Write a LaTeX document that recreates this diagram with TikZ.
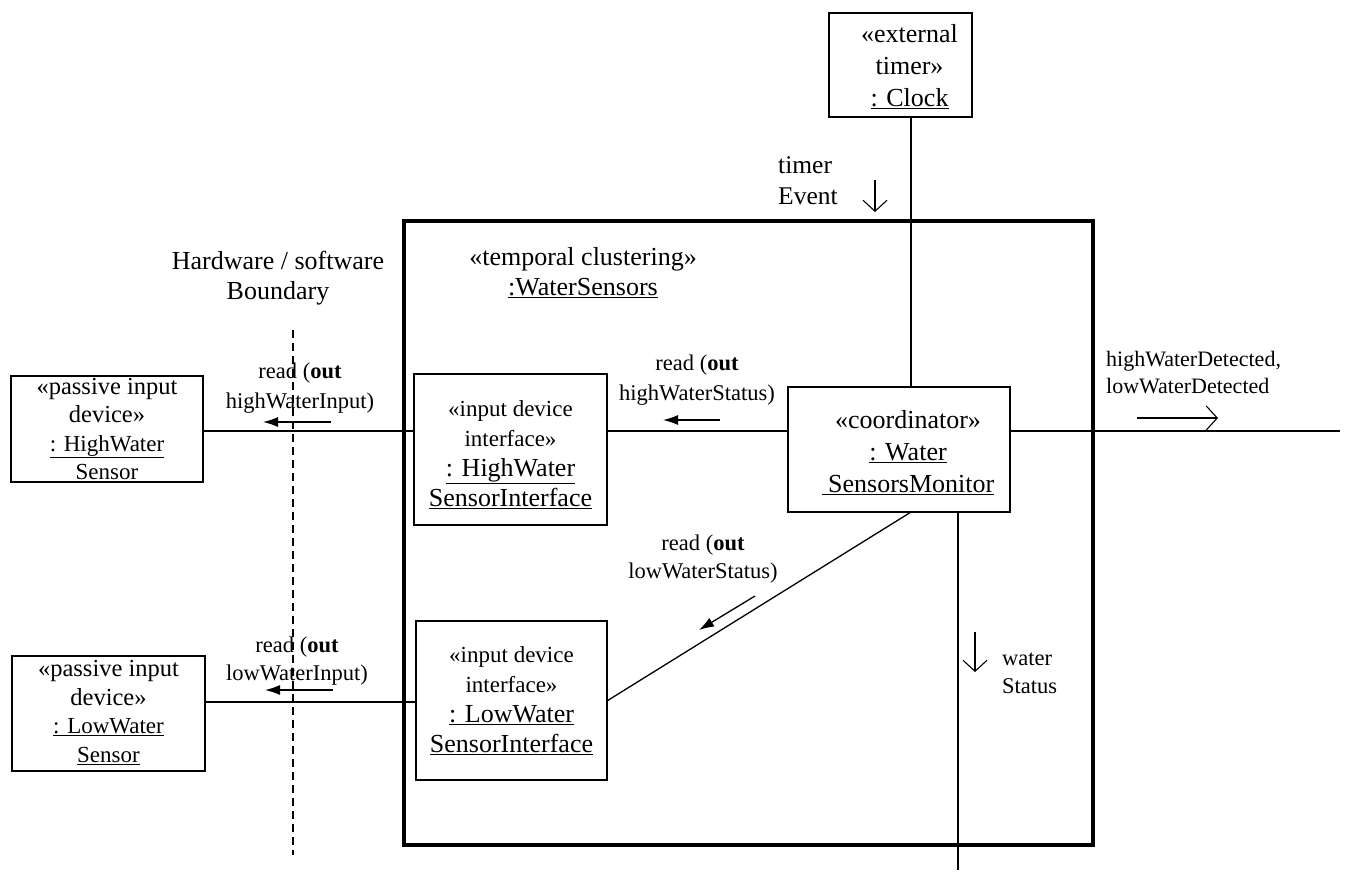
\documentclass[tikz,border=0pt]{standalone}
\usepackage{fontspec}
\setmainfont{Liberation Serif}
\usetikzlibrary{arrows.meta}

% font sizes used in the diagram
\newcommand\namefont{\fontsize{26}{30}\selectfont}
\newcommand\stereofont{\fontsize{23}{29}\selectfont}
\newcommand\passivefont{\fontsize{24.5}{28.5}\selectfont}
\newcommand\sensorfont{\fontsize{23}{28.5}\selectfont}
\newcommand\labelfont{\fontsize{22.5}{28}\selectfont}

\tikzset{
  objbox/.style={draw, line width=1.3pt, inner sep=0pt},
  boxtext/.style={align=center, inner sep=0pt},
  cluster/.style={draw, line width=4.5pt, inner sep=0pt},
  link/.style={line width=1.3pt},
  msgarrow/.style={line width=1.3pt, -{Latex[length=15pt,width=10pt]}},
  evtarrow/.style={line width=1.1pt, -{Straight Barb[length=11pt,width=24pt]}},
  lbl/.style={align=center, inner sep=0pt, font=\labelfont},
  boundary/.style={line width=1.3pt, dash pattern=on 8pt off 5pt},
}

\begin{document}
\begin{tikzpicture}[x=1pt, y=-1pt]
\useasboundingbox (0,0) rectangle (1346,871);

% enclosing temporal cluster
\node[cluster, minimum width=689pt, minimum height=624pt] (cluster) at (748.5,533) {};
\node[boxtext, font=\namefont] (clname) at (583,273)
  {«temporal clustering»\\\underline{:WaterSensors}};

% object boxes
\node[objbox, minimum width=143pt, minimum height=104pt] (clock) at (900.5,65) {};
\node[objbox, minimum width=192pt, minimum height=106pt] (hws) at (107,429) {};
\node[objbox, minimum width=193pt, minimum height=151pt] (hwi) at (510.5,449.5) {};
\node[objbox, minimum width=222pt, minimum height=125pt] (coord) at (899,449.5) {};
\node[objbox, minimum width=193pt, minimum height=115pt] (lws) at (108.5,713.5) {};
\node[objbox, minimum width=191pt, minimum height=159pt] (lwi) at (511.5,700.5) {};

% object names
\node[boxtext, font=\namefont\fontsize{26}{32}\selectfont] (clocktxt) at ([xshift=9pt,yshift=-2pt]clock.center)
  {«external\\timer»\\\underline{: Clock}};
\node[boxtext, font=\sensorfont] (hwstxt) at ([yshift=-1pt]hws.center)
  {{\passivefont «passive input}\\{\passivefont device»}\\\underline{: HighWater}\\\underline{Sensor}};
\node[boxtext, font=\namefont] (hwitxt) at ([yshift=-5pt]hwi.center)
  {{\stereofont «input device}\\{\stereofont interface»}\\\underline{: HighWater}\\\underline{SensorInterface}};
\node[boxtext, font=\namefont\fontsize{26}{32}\selectfont] (coordtxt) at ([xshift=9pt,yshift=-3pt]coord.center)
  {«coordinator»\\\underline{: Water}\\\underline{\ SensorsMonitor}};
\node[boxtext, font=\sensorfont] (lwstxt) at ([yshift=1pt]lws.center)
  {{\passivefont «passive input}\\{\passivefont device»}\\\underline{: LowWater}\\\underline{Sensor}};
\node[boxtext, font=\namefont] (lwitxt) at (lwi.center)
  {{\stereofont «input device}\\{\stereofont interface»}\\\underline{: LowWater}\\\underline{SensorInterface}};

% reference rows and free ends
\coordinate (rowA) at (0,431);
\coordinate (rowB) at (0,702);
\coordinate (tline) at (911,0);
\coordinate (outEnd) at (1340,431);
\coordinate (wsEnd) at (958,870);
\coordinate (bTop) at (293,330);
\coordinate (bBot) at (293,855);

% hardware / software boundary
\node[boxtext, font=\namefont] (bname) at (278,278)
  {Hardware / software\\Boundary};
\draw[boundary] (bTop) -- (bBot);

% connectors
\draw[link] (clock.south -| tline) -- (coord.north -| tline);
\draw[link] (hws.east |- rowA) -- (hwi.west |- rowA);
\draw[link] (hwi.east |- rowA) -- (coord.west |- rowA);
\draw[link] (coord.east |- rowA) -- (outEnd);
\draw[link] (lws.east |- rowB) -- (lwi.west |- rowB);
\draw[link] ([xshift=11pt]coord.south) -- (lwi.east);
\draw[link] (coord.south -| wsEnd) -- (wsEnd);

% message labels and direction arrows
\node[align=left, inner sep=0pt, anchor=west, font=\fontsize{25.5}{31}\selectfont] (tev) at (778,181) {timer\\Event};
\draw[evtarrow] (875,180) -- (875,212);

\node[lbl, font=\fontsize{22.5}{30}\selectfont] (m1) at (300,388) {read (\textbf{out}\\highWaterInput)};
\draw[msgarrow] (331,422) -- (263,422);

\node[lbl, font=\fontsize{22.5}{30}\selectfont] (m2) at (697,380) {read (\textbf{out}\\highWaterStatus)};
\draw[msgarrow] (720,420) -- (663,420);

\node[lbl, align=left, anchor=west, font=\fontsize{22}{27}\selectfont] (m3) at (1106,373) {highWaterDetected,\\lowWaterDetected};
\draw[evtarrow] (1137,418) -- (1218,418);

\node[lbl] (m4) at (703,559) {read (\textbf{out}\\lowWaterStatus)};
\draw[msgarrow] (755,596) -- (699,630);

\node[lbl, align=left, anchor=west] (m5) at (1002,673) {water\\Status};
\draw[evtarrow] (975,632) -- (975,672);

\node[lbl] (m6) at (297,661) {read (\textbf{out}\\lowWaterInput)};
\draw[msgarrow] (333,690) -- (265,690);
\end{tikzpicture}
\end{document}
